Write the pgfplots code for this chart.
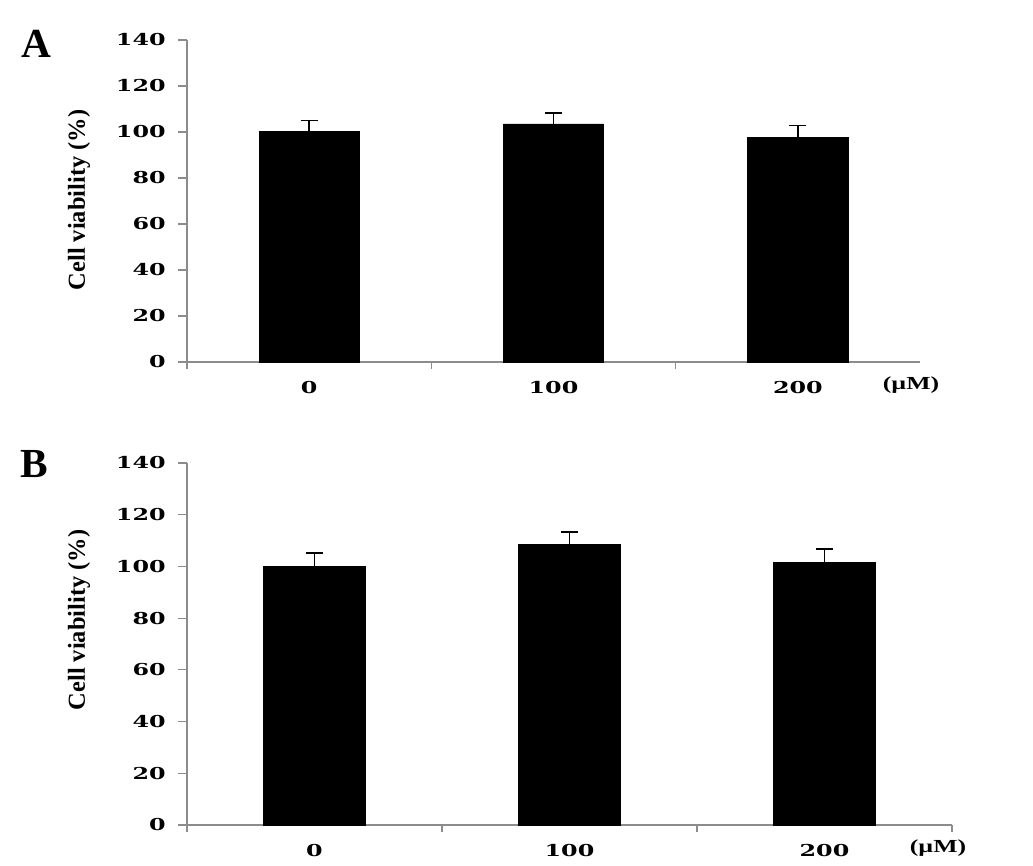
\documentclass[border=0pt]{standalone}
\usepackage{pgfplots}
\pgfplotsset{compat=1.18}
\usepackage{fontspec}
\setmainfont{Liberation Serif}
\newfontfamily\tickfont{DejaVu Serif}
\usepackage{graphicx}
\definecolor{axgray}{RGB}{140,140,140}
\newcommand{\tl}[1]{\scalebox{1.45}[1]{\fontsize{12.3}{14}\selectfont\tickfont\bfseries #1}}
\pgfplotsset{
  cellstyle/.style={
    scale only axis,
    axis lines*=left,
    axis line style={axgray, line width=1pt},
    ymin=0, ymax=140,
    ytick={0,20,...,140},
    yticklabel={\tl{\pgfmathprintnumber[assume math mode=true]{\tick}}},
    yticklabel style={xshift=-6pt},
    xmin=-0.5, xmax=2.5,
    xtick={0,1,2},
    xticklabels={\tl{0},\tl{100},\tl{200}},
    xticklabel style={yshift=-4.5pt},
    tick align=outside,
    tick style={axgray, line width=0.8pt},
    major tick length=6.5pt,
    minor tick length=5pt,
    every major x tick/.style={draw=none},
    xtick pos=bottom, ytick pos=left,
    clip=false,
    ybar,
    bar width=0.41,
    error bars/y dir=plus,
    error bars/y explicit,
    error bars/error bar style={black, line width=1.4pt},
    error bars/error mark options={black, rotate=90, line width=1.4pt, mark size=6.4pt},
  }
}
\begin{document}
\begin{tikzpicture}
\useasboundingbox (0,0) rectangle (774.75pt,-649.5pt);
% Panel A
\begin{axis}[cellstyle,
  at={(140.25pt,-271.5pt)}, anchor=south west,
  width=549.75pt, height=241.5pt,
  minor xtick={-0.5,0.5,1.5},
]
\addplot[fill=black, draw=black] coordinates {
  (0,100.2) +- (0,4.8)
  (1,103.5) +- (0,4.9)
  (2,97.8) +- (0,5.0)
};
\end{axis}
% Panel B
\begin{axis}[cellstyle,
  at={(140.25pt,-618.75pt)}, anchor=south west,
  width=573.75pt, height=271.5pt,
  minor xtick={-0.5,0.5,1.5,2.5},
  bar width=0.40,
]
\addplot[fill=black, draw=black] coordinates {
  (0,100.1) +- (0,5.1)
  (1,108.5) +- (0,4.9)
  (2,101.6) +- (0,5.1)
};
\end{axis}
\node[font=\fontsize{31}{34}\selectfont\bfseries] at (27pt,-33pt) {A};
\node[font=\fontsize{31}{34}\selectfont\bfseries] at (25.5pt,-348pt) {B};
\node[rotate=90, font=\fontsize{18.3}{20}\selectfont\bfseries] at (59.25pt,-150pt) {Cell viability (\%)};
\node[rotate=90, font=\fontsize{18.3}{20}\selectfont\bfseries] at (59.25pt,-465pt) {Cell viability (\%)};
\node at (683.25pt,-288.75pt) {\scalebox{1.4}[1]{\fontsize{13.8}{15}\selectfont\bfseries (µM)}};
\node at (703.5pt,-636pt) {\scalebox{1.4}[1]{\fontsize{13.8}{15}\selectfont\bfseries (µM)}};
\end{tikzpicture}
\end{document}
